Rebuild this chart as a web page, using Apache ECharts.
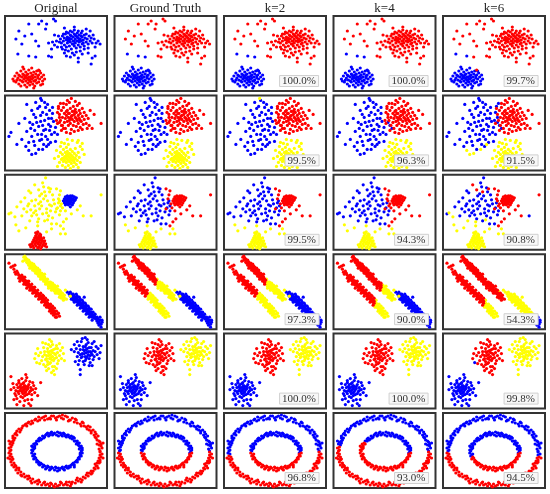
<!DOCTYPE html>
<html><head><meta charset="utf-8">
<script src="https://cdn.jsdelivr.net/npm/echarts@6/dist/echarts.min.js"></script>
<style>html,body{margin:0;padding:0;background:#fff}#c{width:550px;height:494px}</style>
</head><body><div id="c"></div>
<script>
// ---------- titles & scores ----------
const columnTitles = ['Original', 'Ground Truth', 'k=2', 'k=4', 'k=6'];
const row1Scores = ['100.0%', '100.0%', '99.7%'];
const row2Scores = ['99.5%', '96.3%', '91.5%'];
const row3Scores = ['99.5%', '94.3%', '90.8%'];
const row4Scores = ['97.3%', '90.0%', '54.3%'];
const row5Scores = ['100.0%', '100.0%', '99.8%'];
const row6Scores = ['96.8%', '93.0%', '94.5%'];

// ---------- row 1 : two blobs ----------
const r1A = [[8,12],[10,15],[11,9],[12,18],[13,13],[14,7],[14,16],[15,11],[16,20],[16,5],[17,14],[18,9],[18,17],[19,12],[19,22],[20,6],[20,15],[21,10],[21,19],[22,13],[22,4],[23,17],[23,8],[24,11],[24,21],[25,14],[25,6],[26,18],[26,9],[27,12],[27,23],[28,16],[28,7],[29,10],[29,19],[30,14],[30,5],[31,17],[31,11],[32,8],[32,20],[33,13],[34,16],[34,9],[35,12],[36,18],[36,6],[37,14],[38,10],[39,16],[40,12],[12,11],[15,15],[17,10],[20,13],[22,16],[24,14],[26,12],[28,13],[30,10],[23,12],[19,16],[27,15],[25,10],[21,14],[33,15],[9,10],[18,24],[29,3],[35,20],[38,7]];
const r1B = [[56,52],[57,48],[58,55],[59,50],[60,53],[60,46],[61,57],[62,51],[62,44],[63,54],[63,48],[64,58],[64,50],[65,45],[65,53],[66,56],[66,49],[67,52],[67,42],[68,59],[68,47],[69,54],[69,50],[70,45],[70,57],[71,52],[71,48],[72,55],[72,43],[73,50],[73,58],[74,53],[74,46],[75,56],[75,49],[76,52],[76,44],[77,58],[77,50],[78,54],[78,47],[79,51],[80,56],[80,45],[81,53],[82,49],[82,57],[83,52],[84,47],[85,55],[86,50],[87,53],[66,60],[70,61],[74,60],[78,60],[62,59],[59,57],[55,49],[57,44],[61,41],[64,40],[68,38],[72,39],[76,40],[80,42],[84,43],[88,48],[89,56],[67,55],[71,56],[65,51],[69,47],[73,54],[77,55],[63,52],[75,51],[79,48],[70,50],
  [48,49],[50,46],[52,50],[53,44],[54,55],[50,56],[60,38],[62,35],[66,34],[70,36],[74,33],[78,37],[58,42],[84,38],[88,33],[90,52],[92,48],[94,50],[96,47],[91,44],[86,60],[82,62],[70,64],[60,63],[47,42],[44,48],
  [14,60],[24,67],[11,52],[17,47],[31,50],[41,62],[37,70],[49,72],[34,45],[44,35],[47,34],[27,57],[51,70],[42,67],[34,67],[87,27],[74,29],[91,35],[20,55]];
const r1C = [[13,37],[24,35]];
const r1D = [[34,21]];
const r1E = [[31,34]];
const row1Classes = ['rbbrb', 'brbbb', 'brbbb', 'brbbb', 'brbrr'];

// ---------- row 2 : three blobs ----------
const r2R = [[55,56],[56,50],[57,60],[58,53],[58,45],[59,63],[60,48],[60,57],[61,52],[61,42],[62,66],[62,55],[63,49],[63,60],[64,45],[64,53],[65,68],[65,57],[65,50],[66,62],[66,47],[67,54],[67,41],[68,59],[68,51],[69,64],[69,45],[70,56],[70,49],[71,61],[71,53],[72,44],[72,58],[73,50],[73,65],[74,55],[74,47],[75,60],[75,52],[76,43],[76,57],[77,49],[78,62],[78,54],[79,46],[80,58],[80,51],[82,55],[82,47],[84,52],[63,70],[67,72],[71,69],[59,67],[75,67],[57,40],[62,38],[66,37],[70,39],[74,40],[78,41],[85,45],[86,60],[53,47],[54,62],[64,57],[68,55],[72,52],[66,52],[70,59],[62,59],[76,50],[97,47],[88,42],[83,42],[90,56]];
const r2RL1 = [[57,45],[59,42],[55,48]];
const r2RL2 = [[53,58],[54,64],[55,53],[52,50],[56,67]];
const r2B = [[22,66],[31,68],[37,70],[29,56],[31,53],[41,63],[42,56],[36,49],[44,46],[51,43],[41,41],[37,36],[47,36],[51,29],[39,26],[34,21],[6,38],[4,34],[17,31],[22,39],[27,60],[33,62],[38,58],[45,60],[47,52],[40,50],[34,44],[28,46],[30,40],[25,48],[43,31],[35,30],[45,40],[49,49],[38,45],[33,36],[27,34],[24,28],[14,47],[20,52],[29,29],[41,34],[46,44],[36,55],[43,66],[48,57],[50,38],[53,36],[39,40],[32,48],[44,52],[35,64],[26,42],[42,24],[46,28],[37,31],[30,25],[21,24],[12,26],[48,63],[40,68]];
const r2BY = [[24,20],[31,17],[38,21],[44,26],[27,16]];
const r2BK2 = [[36,72]];
const r2Y = [[52,20],[54,14],[55,8],[56,18],[56,24],[57,11],[58,5],[58,16],[59,21],[59,9],[60,13],[60,27],[61,3],[61,18],[62,8],[62,15],[62,23],[63,11],[63,19],[64,5],[64,14],[64,26],[65,9],[65,17],[66,12],[66,21],[66,2],[67,7],[67,15],[68,19],[68,10],[69,13],[69,4],[70,17],[70,8],[71,22],[71,12],[72,6],[72,15],[73,10],[74,18],[74,3],[75,13],[76,8],[60,10],[63,16],[65,13],[67,11],[61,14],[64,10],[66,16],[62,12],[68,14],[58,12],[70,11],[57,28],[63,31],[68,30],[73,28],[76,24],[78,21],[50,12],[53,4],[80,16],[74,30],[78,27]];
const row2Classes = ['rrrbbby', 'rrrbbby', 'rrrbbyy', 'rbrbbby', 'rbbbyby'];

// ---------- row 3 : two compact blobs in a wide cloud ----------
const r3CR = [[59,49],[60,51],[60,47],[61,53],[61,49],[62,46],[62,51],[63,54],[63,48],[64,50],[64,45],[65,52],[65,48],[66,54],[66,50],[66,46],[67,52],[67,48],[68,50],[68,54],[69,47],[69,51],[70,49],[70,53],[71,50],[62,49],[63,51],[65,50],[67,50],[64,53],[64,47],[61,45],[68,45],[66,43],[72,52]];
const r3CY = [[33,18],[32,16],[35,16],[31,14],[34,14],[36,13],[30,12],[33,12],[37,11],[29,10],[32,10],[35,10],[38,9],[28,8],[31,8],[34,8],[36,7],[39,7],[27,6],[30,6],[33,6],[35,5],[38,5],[41,6],[28,4],[31,4],[34,3],[37,3],[40,4],[26,3],[29,2],[33,2],[36,1],[32,12],[34,11],[30,9],[37,9],[33,7],[35,12],[40,9],[25,5],[42,3],[39,12],[31,17],[36,15]];
const r3Sb = [[41,72],[39,63],[20,52],[35,54],[41,54],[24,46],[12,43],[4,36],[19,41],[31,39],[37,44],[47,44],[51,38],[44,34],[34,31],[52,26],[47,26],[27,34],[17,34],[45,58],[26,57],[36,48],[43,49],[49,50],[30,44],[22,38],[38,36],[46,39],[53,42],[42,41],[27,49],[16,48],[32,35],[40,29],[48,32],[55,35],[35,41],[29,37],[23,44],[39,51],[45,45],[50,46],[31,50],[37,56],[42,37],[26,40],[54,47],[56,39],[34,46],[48,55],[24,59],[38,67],[44,62]];
const r3Sb2 = [[30,65],[40,58],[46,61],[34,60]];
const r3Sb3 = [[6,37],[10,33],[25,29],[33,28],[43,30]];
const r3Sb4 = [[55,49],[56,44]];
const r3Sr = [[52,61],[56,59],[54,51],[57,46],[52,41],[61,39],[67,36],[76,44],[79,34],[97,55],[59,28],[62,31],[56,24],[58,42],[55,55],[73,40]];
const r3Sr2 = [[87,34]];
const r3Sy = [[11,25],[14,19],[33,24],[47,21],[56,16],[61,16],[59,21],[21,22],[42,18]];
const row3Classes = ['bryyyyyyy', 'rybbbbrry', 'rybbbbrry', 'rybbbrrry', 'rybryrrby'];

// ---------- row 4 : diagonal strips ----------
const r4U1 = [[19,72],[20,69],[21,71],[22,67],[23,69],[24,66],[24,64],[25,67],[26,63],[26,65],[27,64],[27,61],[28,62],[28,64],[29,60],[29,62],[30,61],[30,58],[31,59],[31,62],[32,57],[32,60],[33,58],[33,55],[34,56],[34,59],[35,54],[35,57],[36,55],[36,52],[37,54],[37,56],[38,52],[38,50],[39,53],[39,51],[40,49],[40,52],[41,50],[41,47],[42,49],[23,66],[25,64],[30,60],[33,57],[36,53],
  [20,73],[22,70],[24,69],[25,61],[27,66],[28,59],[30,63],[31,56],[33,61],[34,53],[35,59],[36,50],[38,55],[39,48],[40,55],[41,45],[18,68],[29,65]];
const r4U2a = [[43,47],[43,45],[44,46],[45,44],[45,47],[46,43],[46,45],[47,44],[47,41],[48,42],[48,44],[44,43],[43,50],[44,41],[46,47],[47,39],[48,46]];
const r4U2b = [[49,40],[49,43],[50,41],[51,39],[51,42],[52,38],[53,40],[53,36],[54,37],[55,35],[56,36],[56,33],[57,34],[58,32],[59,33],[60,31],[50,38],[54,39],[50,44],[51,36],[53,43],[55,32],[55,39],[57,31],[58,36],[60,34],[62,30],[59,29]];
const r4L1 = [[4,66],[9,60],[8,63],[12,58],[11,55],[14,54],[15,52],[16,50],[16,53],[17,51],[18,49],[18,52],[19,48],[19,50],[20,47],[20,49],[21,45],[21,48],[22,46],[22,44],[23,45],[23,47],[24,43],[24,45],[25,44],[25,42],[26,40],[26,43],[27,41],[27,39],[28,40],[28,42],[29,38],[29,40],[30,37],[30,39],[31,36],[31,38],[32,35],[32,37],[33,36],[14,51],[22,48],[26,41],
  [6,62],[10,57],[13,56],[15,48],[17,54],[19,45],[20,52],[22,41],[24,48],[25,39],[27,45],[28,36],[30,42],[31,33],[33,39],[10,64]];
const r4L2a = [[34,33],[34,35],[35,32],[35,34],[36,31],[36,33],[37,30],[37,32],[38,29],[38,31],[39,28],[39,30],[40,27],[40,29],[41,26],[41,28],[34,30],[36,36],[37,27],[38,34],[40,24],[41,31],[39,33]];
const r4L2b = [[42,25],[42,27],[43,24],[43,26],[44,22],[44,25],[45,21],[45,23],[46,20],[46,22],[47,19],[47,21],[48,18],[48,20],[49,17],[50,16],[50,18],[51,15],[52,12],[53,15],[42,22],[43,29],[45,18],[46,25],[47,16],[48,23],[49,14],[50,21],[51,12],[54,16],[55,13],[52,18]];
const r4M = [[61,39],[66,33],[56,38]];
const r4R1 = [[65,35],[66,33],[67,34],[68,31],[68,35],[69,32],[70,30],[70,33],[71,31],[71,28],[72,29],[72,32],[73,27],[73,30],[74,28],[74,25],[75,26],[75,29],[76,24],[76,27],[77,25],[77,22],[78,23],[78,26],[79,21],[79,24],[80,22],[80,19],[81,20],[81,23],[82,18],[82,21],[83,19],[83,16],[84,17],[84,20],[85,15],[85,18],[86,16],[86,13],[87,14],[87,17],[88,12],[88,15],[89,13],[90,11],[90,14],[91,12],[92,10],[73,33],[76,30],[79,27],[82,24],[85,21],[69,29],
  [66,37],[67,30],[69,35],[70,27],[72,35],[73,24],[75,32],[76,21],[78,29],[79,18],[81,26],[82,15],[84,23],[85,12],[87,20],[88,9],[89,17],[91,15],[63,37],[80,32]];
const r4R2 = [[93,8],[94,10],[95,7],[96,9],[97,5],[93,12],[95,4],[98,7],[94,6],[96,12],[98,9],[97,2]];
const row4Classes = ['yyyrrrybb', 'ryyryyybb', 'ryyryyybb', 'rryrryybb', 'rrrrryyyb'];

// ---------- row 5 : three separated blobs ----------
const r5B = [[19,19],[17,21],[21,17],[15,18],[23,20],[18,15],[20,23],[16,24],[22,14],[13,21],[25,17],[19,26],[14,15],[24,24],[18,11],[11,18],[26,21],[21,28],[12,24],[27,14],[16,12],[23,9],[9,21],[28,19],[20,8],[14,28],[25,27],[10,15],[29,23],[17,30],[22,31],[8,25],[30,16],[15,7],[24,5],[19,3],[12,10],[27,9],[6,19],[31,20],[20,20],[18,18],[16,20],[22,19],[19,22],[21,22],[17,17],[20,16],[23,22],[15,22],[13,17],[24,15],[20,13],[18,25],[26,18],[11,13],[14,26],[28,26],[6,32],[36,26],[9,9],[33,13],[21,34],[26,3],[12,4]];
const r5R = [[46,54],[44,56],[48,52],[42,53],[50,55],[45,50],[47,58],[43,60],[49,48],[40,57],[52,51],[46,62],[41,49],[51,60],[45,45],[38,52],[53,56],[48,64],[39,61],[54,48],[43,44],[50,42],[36,56],[55,53],[47,67],[41,65],[52,63],[37,48],[56,58],[44,40],[49,38],[34,53],[57,50],[45,69],[39,44],[53,45],[31,55],[58,61],[47,36],[42,38],[46,51],[44,53],[48,56],[43,57],[47,49],[50,50],[45,57],[49,59],[42,50],[51,54],[46,46],[40,54],[30,50],[59,55],[52,40],[50,34],[35,45],[55,65],[38,66],[44,64],[60,48],[33,60],[48,42],[41,42],[53,60],[43,47]];
const r5P = [[32,46]];
const r5Y = [[82,56],[80,58],[84,54],[78,55],[86,57],[81,52],[83,60],[79,62],[85,50],[76,59],[88,54],[82,64],[77,51],[87,61],[81,48],[74,56],[89,58],[84,66],[75,63],[90,52],[79,47],[86,46],[72,60],[91,57],[83,69],[77,67],[88,65],[73,52],[92,62],[80,44],[85,43],[70,57],[93,54],[81,71],[75,48],[89,49],[67,59],[94,60],[82,59],[80,55],[84,57],[79,59],[83,52],[86,53],[81,62],[85,61],[78,52],[87,56],[82,50],[76,54],[96,56],[90,67],[73,67],[78,70],[95,50],[70,64],[97,63],[76,39],[76,34],[74,44],[88,43],[71,47]];
const row5Classes = ['ryyb', 'brry', 'brry', 'brry', 'brby'];

// ---------- row 6 : two rings ----------
const r6O1 = [[96,37],[98,40],[95,43],[96,46],[93,48],[94,52],[90,53],[89,58],[85,58],[84,62],[80,62],[78,66],[73,65],[71,69],[66,68],[63,71],[59,69],[55,72],[51,70],[47,72],[43,69],[39,71],[35,68],[31,69],[28,65],[24,66],[22,62],[18,62],[16,58],[12,57],[12,53],[8,52],[9,48],[6,46],[7,43],
  [95,39],[97,42],[97,44],[95,47],[92,50],[92,54],[91,56],[87,57],[86,61],[82,61],[79,65],[76,64],[72,68],[68,70],[65,68],[61,72],[57,70],[53,71],[49,72],[45,70],[41,72],[37,70],[33,67],[30,68],[26,64],[23,65],[20,63],[17,60],[15,56],[11,55],[10,54],[8,50],[8,47],[5,44],
  [93,44],[99,45],[91,51],[87,55],[83,59],[77,62],[70,66],[64,67],[58,73],[52,68],[46,69],[40,68],[34,71],[27,67],[21,64],[14,59],[10,50],[4,47],[8,45]];
const r6O2 = [[6,41],[4,40],[6,38],[5,37]];
const r6O3 = [[4,35],[6,34]];
const r6O4 = [[5,32],[7,31],[5,29],[7,28],[6,26],[9,25],[7,23],[10,23],[9,21],[12,20],[11,18],[14,18],[13,15],[16,16],[16,13],[19,14],[20,11],[22,12],[23,9],[25,10],[26,7],[28,9],[30,6],[32,7],[33,4],[35,6],[37,3],[39,5],[41,3],[43,4],[45,2],[47,4],[49,2],[51,4],[53,2],[55,3],[57,5],[59,3],[61,4],[63,3],[65,6],[67,4],[68,6],[71,5],[72,8],[74,7],[76,9],[78,8],[79,11],[81,10],[82,13],[84,12],[85,15],[87,14],[87,17],[89,17],[90,20],[91,19],[92,22],[93,22],[93,25],[95,25],[94,27],[96,28],[95,30],[97,31],
  [8,29],[3,30],[11,22],[14,20],[17,12],[24,12],[27,5],[34,8],[40,6],[46,5],[50,1],[56,6],[62,6],[66,2],[73,10],[77,6],[83,15],[88,15],[91,24],[96,26],[99,30],[94,20]];
const r6O5 = [[96,33],[98,34],[96,36]];
const r6I1 = [[77,37],[78,38],[76,40],[77,42],[75,42],[75,45],[73,45],[73,47],[71,47],[70,50],[68,49],[67,52],[65,51],[63,53],[61,52],[59,55],[57,53],[55,55],[52,53],[50,55],[48,53],[46,55],[44,52],[42,54],[40,51],[38,52],[37,49],[35,50],[34,47],[32,47],
  [76,35],[78,40],[74,43],[72,44],[70,47],[66,50],[64,53],[60,54],[56,55],[54,52],[49,54],[45,53],[41,53],[39,50],[36,48],[34,49],[69,51],[62,51],[58,52],[47,56],[53,56],[43,55],[75,39]];
const r6I2 = [[31,45],[29,44],[30,42],[28,41],[29,39],[27,38],[28,37],[32,44],[27,42],[30,40]];
const r6I3 = [[27,35],[29,33],[28,32],[30,34]];
const r6I4 = [[30,31],[29,29],[32,28],[32,26],[34,26],[35,23],[37,24],[38,21],[40,22],[42,20],[44,21],[46,19],[48,20],[50,18],[52,20],[55,18],[57,20],[59,19],[61,21],[63,20],[65,22],[66,21],[68,24],[70,23],[71,26],[73,26],[73,28],[75,29],[75,31],[77,32],[76,34],[78,35],
  [31,30],[33,27],[36,25],[39,23],[43,22],[47,21],[51,21],[54,20],[58,21],[62,22],[64,20],[67,23],[69,25],[72,27],[74,30],[76,33],[45,18],[53,17],[60,18],[41,19],[34,24],[70,21]];
const row6Classes = ['rrrrrbbbb', 'bbrrrbbrr', 'bbbrrbbrr', 'brrrrbrrr', 'bbrrbbbbr'];

// ---------- assembly ----------
const rows = [
  { groups: [r1A, r1B, r1C, r1D, r1E], classes: row1Classes, scores: row1Scores },
  { groups: [r2R, r2RL1, r2RL2, r2B, r2BY, r2BK2, r2Y], classes: row2Classes, scores: row2Scores },
  { groups: [r3CR, r3CY, r3Sb, r3Sb2, r3Sb3, r3Sb4, r3Sr, r3Sr2, r3Sy], classes: row3Classes, scores: row3Scores },
  { groups: [r4U1, r4U2a, r4U2b, r4L1, r4L2a, r4L2b, r4M, r4R1, r4R2], classes: row4Classes, scores: row4Scores },
  { groups: [r5B, r5R, r5P, r5Y], classes: row5Classes, scores: row5Scores },
  { groups: [r6O1, r6O2, r6O3, r6O4, r6O5, r6I1, r6I2, r6I3, r6I4], classes: row6Classes, scores: row6Scores }
];
const COLORS = { r: '#ff0000', b: '#0000ff', y: '#ffff00' };
const X_MAX = 103, Y_MAX = 75;

const PW = 102, PH = 75, X0 = 5, DX = 109.5, Y0 = 16, DY = 79.4;
const grid = [], xAxis = [], yAxis = [], series = [], title = [];
const serifFont = '"Liberation Serif", "DejaVu Serif", serif';

columnTitles.forEach((t, c) => {
  title.push({ text: t, left: X0 + c * DX + PW / 2, top: 2, textAlign: 'center', padding: 0,
    textStyle: { fontFamily: serifFont, fontSize: 13, fontWeight: 'normal', color: '#222' } });
});

rows.forEach((row, r) => {
  for (let c = 0; c < 5; c++) {
    const idx = r * 5 + c;
    const left = X0 + c * DX, top = Y0 + r * DY;
    grid.push({ left: left, top: top, width: PW, height: PH, show: true,
      borderColor: '#333', borderWidth: 2, backgroundColor: '#fff' });
    xAxis.push({ gridIndex: idx, type: 'value', min: 0, max: X_MAX, show: false });
    yAxis.push({ gridIndex: idx, type: 'value', min: 0, max: Y_MAX, show: false });
    ['b', 'y', 'r'].forEach(k => {
      const data = [];
      row.groups.forEach((g, gi) => { if (row.classes[c][gi] === k) g.forEach(p => data.push(p)); });
      if (data.length) series.push({ type: 'scatter', xAxisIndex: idx, yAxisIndex: idx, data: data,
        symbolSize: 3.2, itemStyle: { color: COLORS[k], opacity: 1 }, silent: true, animation: false });
    });
    if (c >= 2) {
      title.push({ text: row.scores[c - 2], right: 550 - (left + PW - 7), bottom: 494 - (top + PH - 4),
        padding: [1, 3, 0, 3], backgroundColor: '#f7f7f7', borderColor: '#d0d0d0', borderWidth: 1,
        textStyle: { fontFamily: serifFont, fontSize: 11, fontWeight: 'normal', color: '#333' } });
    }
  }
});

const chart = echarts.init(document.getElementById('c'), null, { renderer: 'canvas' });
chart.setOption({ animation: false, backgroundColor: '#fff', title, grid, xAxis, yAxis, series });
</script></body></html>
